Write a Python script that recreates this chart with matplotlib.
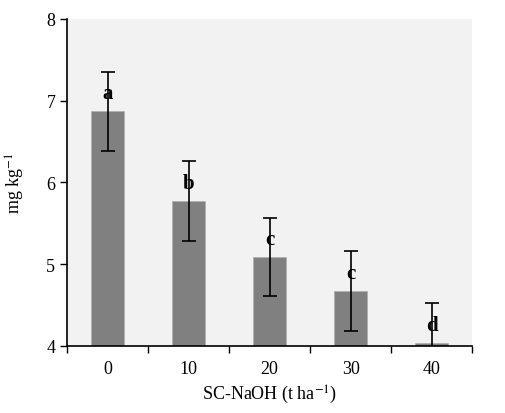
import matplotlib.pyplot as plt
import numpy as np

plt.rcParams['font.family'] = ['Liberation Serif', 'DejaVu Serif']
plt.rcParams['mathtext.fontset'] = 'stix'

rates = ["0", "10", "20", "30", "40"]
values = [6.87, 5.77, 5.09, 4.67, 4.04]
errors = [0.48, 0.49, 0.48, 0.49, 0.49]
letters = ["a", "b", "c", "c", "d"]

fig = plt.figure(figsize=(5.05, 4.14), dpi=100)
ax = fig.add_axes([0.133, 0.162, 0.802, 0.79])
ax.set_facecolor('#f2f2f2')
x = np.arange(len(rates))
ax.bar(x, values, width=0.4, color='#808080', edgecolor='#b0b0b0', linewidth=0.6)
ax.errorbar(x, values, yerr=errors, fmt='none', ecolor='black', elinewidth=1.2,
            capsize=5, capthick=1.2)
for xi, v, l in zip(x, values, letters):
    ax.text(xi, v + 0.22, l, ha='center', va='center',
            fontsize=15, fontweight='bold')

ax.set_xlim(-0.5, len(rates) - 0.5)
ax.set_ylim(4, 8)
ax.set_yticks([4, 5, 6, 7, 8])
ax.set_xticks(x)
ax.set_xticklabels(rates)
ax.set_xticks(np.arange(-0.5, len(rates)), minor=True)
ax.tick_params(axis='x', which='major', length=0, labelsize=13, pad=10)
ax.tick_params(axis='x', which='minor', length=5, width=1)
ax.tick_params(axis='y', length=5, width=1, labelsize=13)
for s in ['top', 'right']:
    ax.spines[s].set_visible(False)
for s in ['left', 'bottom']:
    ax.spines[s].set_linewidth(1.2)
ax.set_ylabel("mg kg$^{-1}$", fontsize=13)
ax.set_xlabel("SC-NaOH (t ha$^{-1}$)", fontsize=13)
ax.yaxis.set_label_coords(-0.1, 0.5)
fig.savefig("out.png", dpi=100)
